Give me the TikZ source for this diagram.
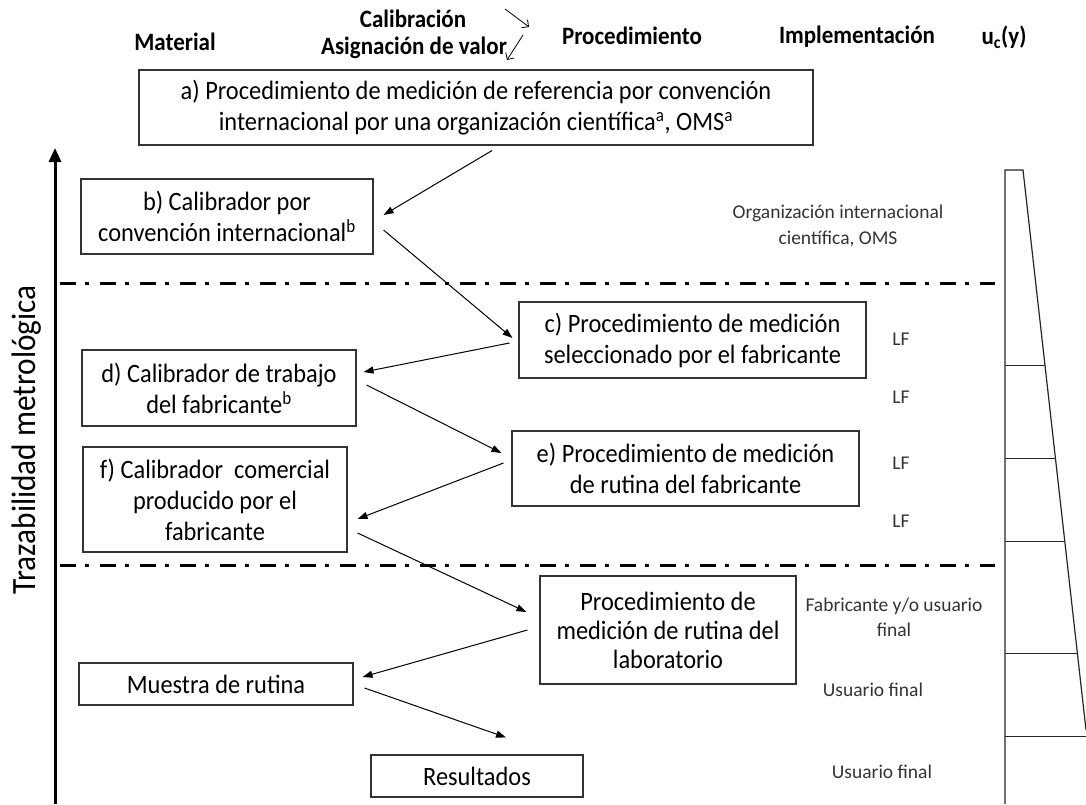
\documentclass[tikz,border=0pt]{standalone}
\usepackage{fontspec}
\setmainfont{Carlito}[FakeStretch=0.92]
\newfontfamily\rotulo{Carlito}
\usetikzlibrary{arrows.meta}

\begin{document}
\begin{tikzpicture}[x=1pt,y=-1pt,
  caja/.style={draw=black!80,line width=1.1pt,align=center,inner sep=0pt,font=\fontsize{26.5}{31}\selectfont},
  titulo/.style={font=\bfseries\fontsize{25}{30}\selectfont},
  etiqueta/.style={text=black!80,align=center,font=\rotulo\fontsize{19.5}{26}\selectfont},
  flecha/.style={-{Triangle[length=10pt,width=7pt]},line width=1pt},
  corte/.style={line width=3pt,dash pattern=on 16pt off 9pt on 4pt off 11pt}]
\useasboundingbox (0,0) rectangle (1086,804);

\node[titulo] (mat) at (175,42) {Material};
\node[titulo] (cal) at (413,19) {Calibración};
\node[titulo] (asig) at (414,48) {Asignación de valor};
\node[titulo] (proc) at (632,36) {Procedimiento};
\node[titulo] (impl) at (857,37) {Implementación};
\node[titulo] (uc) at (1004,37) {u\textsubscript{c}(y)};
\coordinate (c1) at (505,9);
\coordinate (c2) at (529,27);
\coordinate (c3) at (523,35);
\coordinate (c4) at (507,60);
\draw[-{Straight Barb[length=5pt]},line width=0.8pt] (c1) -- (c2);
\draw[-{Straight Barb[length=5pt]},line width=0.8pt] (c3) -- (c4);

\node[caja,minimum width=674pt,minimum height=75pt] (a) at (476,107.5) {a) Procedimiento de medición de referencia por convención\\internacional por una organización científica\textsuperscript{a}, OMS\textsuperscript{a}};
\node[caja,minimum width=292pt,minimum height=75pt] (b) at (227,216.5) {b) Calibrador por\\convención internacional\textsuperscript{b}};
\node[caja,minimum width=347pt,minimum height=76pt] (c) at (692.5,340) {c) Procedimiento de medición\\seleccionado por el fabricante};
\node[caja,minimum width=274pt,minimum height=76pt] (d) at (219,388) {d) Calibrador de trabajo\\del fabricante\textsuperscript{b}};
\node[caja,minimum width=347pt,minimum height=75pt] (e) at (685.5,468.5) {e) Procedimiento de medición\\de rutina del fabricante};
\node[caja,minimum width=264pt,minimum height=105pt] (f) at (215,499.5) {f) Calibrador\ \ comercial\\producido por el\\fabricante};
\node[caja,minimum width=256pt,minimum height=108pt,font=\fontsize{26.5}{29}\selectfont] (lab) at (668,630) {Procedimiento de\\medición de rutina del\\laboratorio};
\node[caja,minimum width=274pt,minimum height=42pt] (mues) at (216,684) {Muestra de rutina};
\node[caja,minimum width=212pt,minimum height=42pt] (res) at (477,776) {Resultados};

\draw[flecha] ([shift={(16,5)}]a.south) -- ([shift={(10,-1.5)}]b.east);
\draw[flecha] ([shift={(10,13.5)}]b.east) -- ([shift={(-6,-2)}]c.west);
\draw[flecha] ([shift={(-9,3)}]c.west) -- ([shift={(7,-16)}]d.east);
\draw[flecha] ([shift={(10,-3)}]d.east) -- ([shift={(-10,-15.5)}]e.west);
\draw[flecha] ([shift={(-8,-5.5)}]e.west) -- ([shift={(10,19.5)}]f.east);
\draw[flecha] ([shift={(10,33.5)}]f.east) -- ([shift={(-13,-18)}]lab.west);
\draw[flecha] ([shift={(-12,0)}]lab.west) -- ([shift={(9,-7)}]mues.east);
\draw[flecha] ([shift={(11,4)}]mues.east) -- ([shift={(29,-17)}]res.north);

\node[etiqueta] (org) at (838,226) {Organización internacional\\científica, OMS};
\node[etiqueta] (lf1) at (901,339) {LF};
\node[etiqueta] (lf2) at (901,397) {LF};
\node[etiqueta] (lf3) at (901,463) {LF};
\node[etiqueta] (lf4) at (901,521) {LF};
\node[etiqueta,font=\rotulo\fontsize{19.5}{25}\selectfont] (fab) at (894,617.5) {Fabricante y/o usuario\\final};
\node[etiqueta] (uf1) at (873,690) {Usuario final};
\node[etiqueta] (uf2) at (882,772) {Usuario final};

\draw[corte] (60,283) -- (995,283);
\draw[corte] (60,565) -- (995,565);

\draw[line width=3pt,-{Triangle[length=14pt,width=12pt]}] (55,804) -- (55,148);
\node[rotate=90,font=\fontsize{34}{40}\selectfont] (traz) at (27,440) {Trazabilidad metrológica};

\draw[line width=1.2pt,black!85] (1005,804) -- (1005,170) -- (1023,170) -- (1086,730);
\foreach \yy in {365,458,541,653,736}
  \draw[line width=1pt,black!85] (1005,\yy) -- ({min(1023+0.1125*(\yy-170),1086)},\yy);
\end{tikzpicture}
\end{document}
